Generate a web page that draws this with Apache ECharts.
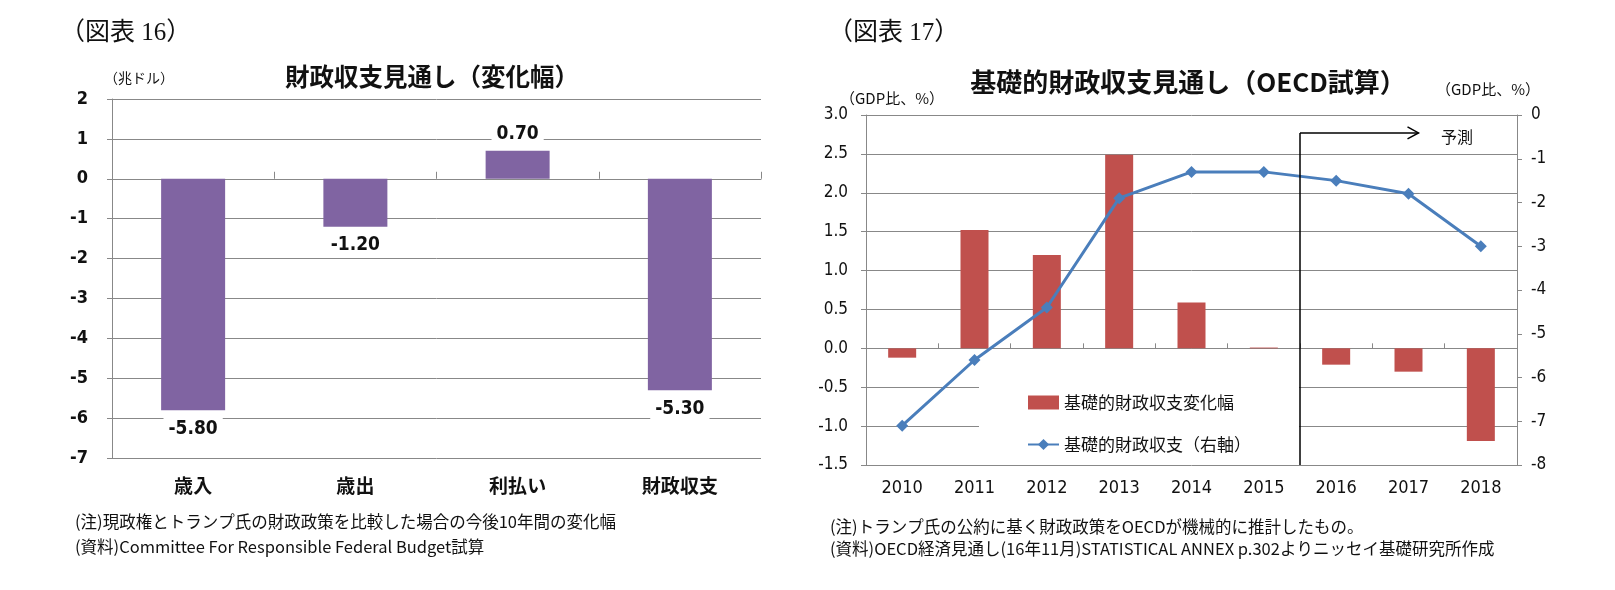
<!DOCTYPE html>
<html>
<head>
<meta charset="utf-8">
<script src="https://cdn.jsdelivr.net/npm/echarts@6/dist/echarts.min.js"></script>
<style>
html, body { margin: 0; padding: 0; background: #fff; }
#chart { width: 1615px; height: 590px; }
</style>
</head>
<body>
<div id="chart"></div>
<script>
// 図表16: 財政収支見通し（変化幅）, 兆ドル
const budgetItems = ['歳入', '歳出', '利払い', '財政収支'];
const budgetChange = [-5.80, -1.20, 0.70, -5.30];
const budgetAxis = [-7, 2, 1]; // min, max, interval

// 図表17: 基礎的財政収支見通し（OECD試算）, GDP比 %
const years = ['2010', '2011', '2012', '2013', '2014', '2015', '2016', '2017', '2018'];
const primaryChange = [-0.12, 1.52, 1.20, 2.49, 0.59, 0.01, -0.21, -0.30, -1.19];
const primaryBalance = [-7.1, -5.6, -4.4, -1.9, -1.3, -1.3, -1.5, -1.8, -3.0];
const changeAxis = [-1.5, 3.0, 0.5];
const balanceAxis = [-8, 0, 1];

const JP = "'Noto Sans CJK JP', sans-serif";
const NUM = "'Liberation Sans Narrow', 'DejaVu Sans Condensed', 'Liberation Sans', 'Noto Sans CJK JP', sans-serif";
const GRID_GRAY = '#888888';

function init() {
    const element = document.getElementById('chart');
    const instance = echarts.init(element);

    const option = {
        animation: false,
        backgroundColor: '#fff',
        grid: [
            { left: 112, top: 99, width: 649, height: 359, containLabel: false, outerBoundsMode: 'none' },
            { left: 866, top: 115, width: 651, height: 350, containLabel: false, outerBoundsMode: 'none' }
        ],
        xAxis: [
            {   // left: category labels at bottom
                type: 'category', gridIndex: 0, data: budgetItems,
                axisLine: { show: false, onZero: false },
                axisTick: { show: false },
                axisLabel: { margin: 18, color: '#111', fontFamily: JP, fontWeight: 'bold', fontSize: 19 }
            },
            {   // left: zero line with boundary ticks
                type: 'category', gridIndex: 0, data: budgetItems,
                axisLine: { show: true, onZero: true, onZeroAxisIndex: 0, lineStyle: { color: GRID_GRAY, width: 1 } },
                axisTick: { show: true, length: 7, lineStyle: { color: GRID_GRAY } },
                axisLabel: { show: false }
            },
            {   // right: year labels at bottom
                type: 'category', gridIndex: 1, data: years,
                axisLine: { show: false, onZero: false },
                axisTick: { show: false },
                axisLabel: { margin: 14, color: '#111', fontFamily: NUM, fontSize: 18 }
            },
            {   // right: zero line with boundary ticks
                type: 'category', gridIndex: 1, data: years,
                axisLine: { show: true, onZero: true, onZeroAxisIndex: 1, lineStyle: { color: GRID_GRAY, width: 1 } },
                axisTick: { show: true, length: 5, lineStyle: { color: GRID_GRAY } },
                axisLabel: { show: false }
            }
        ],
        yAxis: [
            {
                type: 'value', gridIndex: 0,
                min: budgetAxis[0], max: budgetAxis[1], interval: budgetAxis[2],
                axisLine: { show: true, lineStyle: { color: GRID_GRAY } },
                axisTick: { show: true, length: 5, lineStyle: { color: GRID_GRAY } },
                axisLabel: { margin: 24, color: '#111', fontFamily: NUM, fontWeight: 'bold', fontSize: 18 },
                splitLine: { show: true, lineStyle: { color: GRID_GRAY, width: 1 } }
            },
            {
                type: 'value', gridIndex: 1,
                min: changeAxis[0], max: changeAxis[1], interval: changeAxis[2],
                axisLine: { show: true, lineStyle: { color: GRID_GRAY } },
                axisTick: { show: true, length: 5, lineStyle: { color: GRID_GRAY } },
                axisLabel: { margin: 18, color: '#111', fontFamily: NUM, fontSize: 17,
                    formatter: function (v) { return v.toFixed(1); } },
                splitLine: { show: true, lineStyle: { color: GRID_GRAY, width: 1 } }
            },
            {
                type: 'value', gridIndex: 1, position: 'right',
                min: balanceAxis[0], max: balanceAxis[1], interval: balanceAxis[2],
                axisLine: { show: true, lineStyle: { color: GRID_GRAY } },
                axisTick: { show: true, length: 5, lineStyle: { color: GRID_GRAY } },
                axisLabel: { margin: 14, color: '#111', fontFamily: NUM, fontSize: 17 },
                splitLine: { show: false }
            }
        ],
        legend: {
            show: true,
            data: [
                { name: '基礎的財政収支変化幅', icon: 'rect' },
                { name: '基礎的財政収支（右軸）' }
            ],
            orient: 'vertical',
            left: 979, top: 382,
            padding: [12, 48, 8, 48],
            itemGap: 25, itemWidth: 31, itemHeight: 14,
            backgroundColor: '#fff',
            selectedMode: false,
            textStyle: { fontFamily: JP, fontSize: 17, color: '#111' }
        },
        series: [
            {
                name: '財政収支見通し',
                type: 'bar', xAxisIndex: 0, yAxisIndex: 0,
                barWidth: 64,
                itemStyle: { color: '#8064A2' },
                data: budgetChange.map(function (v) {
                    return {
                        value: v,
                        label: { position: v < 0 ? 'bottom' : 'top', distance: v < 0 ? 6 : 4 }
                    };
                }),
                label: {
                    show: true,
                    formatter: function (p) { return p.value.toFixed(2); },
                    color: '#111', fontFamily: NUM, fontWeight: 'bold', fontSize: 19,
                    backgroundColor: '#fff', padding: [3, 5]
                }
            },
            {
                name: '基礎的財政収支変化幅',
                type: 'bar', xAxisIndex: 2, yAxisIndex: 1,
                barWidth: 28,
                itemStyle: { color: '#C0504D' },
                data: primaryChange
            },
            {
                name: '基礎的財政収支（右軸）',
                type: 'line', xAxisIndex: 2, yAxisIndex: 2,
                symbol: 'diamond', symbolSize: 12,
                lineStyle: { color: '#4A7EBB', width: 3 },
                itemStyle: { color: '#4A7EBB' },
                data: primaryBalance
            }
        ]
    };
    instance.setOption(option);

    // forecast divider between 2015 and 2016, arrow towards 2017
    const x15 = instance.convertToPixel({ xAxisIndex: 2 }, '2015');
    const x16 = instance.convertToPixel({ xAxisIndex: 2 }, '2016');
    const x17 = instance.convertToPixel({ xAxisIndex: 2 }, '2017');
    const xDiv = (x15 + x16) / 2;
    const yTop = instance.convertToPixel({ yAxisIndex: 1 }, 2.77);
    const yBottom = instance.convertToPixel({ yAxisIndex: 1 }, changeAxis[0]);
    const xArrow = x17 + 10;

    function txt(x, y, text, size, opts) {
        opts = opts || {};
        return {
            type: 'text', x: x, y: y, z: 100,
            style: {
                text: text,
                fontSize: size,
                fontFamily: opts.family || JP,
                fontWeight: opts.weight || 'normal',
                fill: '#111',
                align: opts.align || 'left',
                verticalAlign: 'middle'
            }
        };
    }

    const SERIF = "'Liberation Serif', 'Noto Sans CJK JP', serif";

    instance.setOption({
        graphic: [
            txt(60, 33, '（図表 16）', 25, { family: SERIF }),
            txt(432, 77, '財政収支見通し（変化幅）', 24.5, { weight: 'bold', align: 'center' }),
            txt(104, 78, '（兆ドル）', 14),
            txt(75, 522, '(注)現政権とトランプ氏の財政政策を比較した場合の今後10年間の変化幅', 16.5),
            txt(75, 547, '(資料)Committee For Responsible Federal Budget試算', 16.5),

            txt(828, 33, '（図表 17）', 25, { family: SERIF }),
            txt(1188, 82, '基礎的財政収支見通し（OECD試算）', 26, { weight: 'bold', align: 'center' }),
            txt(840, 98, '（GDP比、%）', 15),
            txt(1436, 89, '（GDP比、%）', 15),
            txt(1441, 137, '予測', 16),
            txt(830, 527, '(注)トランプ氏の公約に基く財政政策をOECDが機械的に推計したもの。', 16.5),
            txt(830, 549, '(資料)OECD経済見通し(16年11月)STATISTICAL ANNEX p.302よりニッセイ基礎研究所作成', 16.5),

            {
                type: 'line', z: 90,
                shape: { x1: xDiv, y1: yTop, x2: xDiv, y2: yBottom },
                style: { stroke: '#000', lineWidth: 1.5 }
            },
            {
                type: 'line', z: 90,
                shape: { x1: xDiv, y1: yTop, x2: xArrow, y2: yTop },
                style: { stroke: '#000', lineWidth: 1.5 }
            },
            {
                type: 'polyline', z: 90,
                shape: { points: [[xArrow - 11, yTop - 6], [xArrow, yTop], [xArrow - 11, yTop + 6]] },
                style: { stroke: '#000', lineWidth: 1.5, fill: null }
            }
        ]
    });

    window.onresize = function () {
        instance.resize();
    };
}
init();
</script>
</body>
</html>
